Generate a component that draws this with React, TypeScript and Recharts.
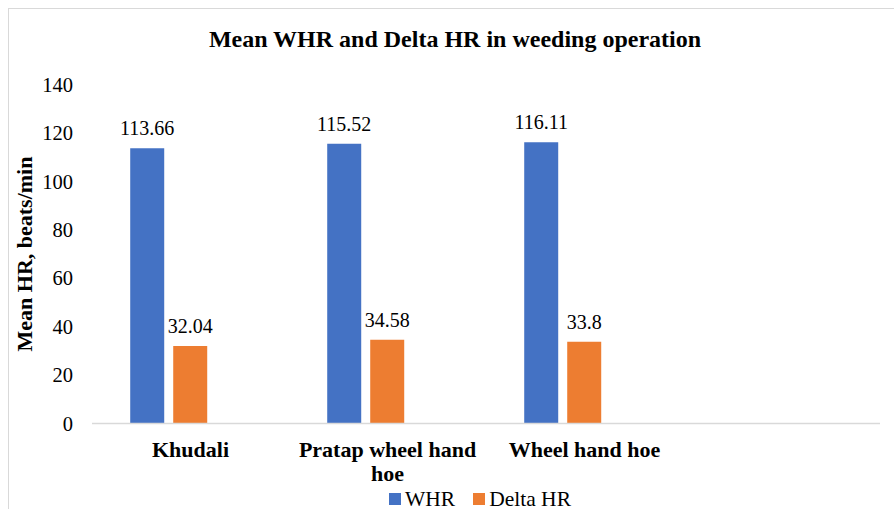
import React from 'react';
import { BarChart, Bar, XAxis, YAxis, Legend, LabelList } from 'recharts';

const categories = ['Khudali', 'Pratap wheel hand hoe', 'Wheel hand hoe', ''];
const whr = [113.66, 115.52, 116.11, null];
const deltaHr = [32.04, 34.58, 33.8, null];
// third series in the source sheet is empty, it only takes up a bar slot
const blank = [null, null, null, null];
const seriesOrder = ['whr', 'delta', 'blank'];
const yTicks = [0, 20, 40, 60, 80, 100, 120, 140];

const SERIF = '"Liberation Serif", "Times New Roman", serif';
const BLUE = '#4472C4';
const ORANGE = '#ED7D31';

const data = categories.map((name, i) => ({
    name,
    whr: whr[i],
    delta: deltaHr[i],
    blank: blank[i],
}));

// greedy word wrap, measured with a canvas so the breaks follow the real font
let measureCtx: CanvasRenderingContext2D | null = null;
const wrapWords = (label: string, font: string, maxWidth: number) => {
    if (!measureCtx) measureCtx = document.createElement('canvas').getContext('2d');
    const ctx = measureCtx!;
    ctx.font = font;
    const lines: string[] = [];
    let current = '';
    label.split(' ').forEach(word => {
        const next = current ? current + ' ' + word : word;
        if (current && ctx.measureText(next).width > maxWidth) {
            lines.push(current);
            current = word;
        } else {
            current = next;
        }
    });
    if (current) lines.push(current);
    return lines;
};

const CategoryTick = (props: any) => {
    const { x, y, payload } = props;
    const lines = wrapWords(String(payload.value), 'bold 22px "Liberation Serif"', 190);
    return (
        <text x={x} y={y} textAnchor="middle" fill="#000" style={{ fontFamily: SERIF, fontSize: 22, fontWeight: 'bold' }}>
            {lines.map((line, i) => (
                <tspan key={i} x={x} dy={i === 0 ? 15.6 : 24}>
                    {line}
                </tspan>
            ))}
        </text>
    );
};

const LegendContent = (props: any) => {
    const items = (props.payload || []).filter((e: any) => e.type !== 'none');
    return (
        <div style={{ display: 'flex', alignItems: 'center', height: 20 }}>
            {items.map((entry: any, i: number) => (
                <div key={entry.value} style={{ display: 'flex', alignItems: 'center', marginRight: i < items.length - 1 ? 18 : 0 }}>
                    <div style={{ width: 12, height: 12, background: entry.color, marginRight: 4 }} />
                    <span style={{ fontFamily: SERIF, fontSize: 21.5, lineHeight: '20px', color: '#000' }}>{entry.value}</span>
                </div>
            ))}
        </div>
    );
};

export default function App() {
    return (
        <div className="chart-root" style={{ position: 'fixed', left: 0, top: 0, width: 894, height: 509, overflow: 'hidden', background: '#fff', fontFamily: SERIF }}>
            <style>{`.chart-root text, .chart-root tspan { font-family: ${SERIF} !important; }`}</style>

            {/* chart frame, only left and top edges are visible in the crop */}
            <div style={{ position: 'absolute', left: 8, top: 8, width: 900, height: 520, borderLeft: '1px solid #d9d9d9', borderTop: '1px solid #d9d9d9' }} />

            <div
                style={{
                    position: 'absolute',
                    left: 8,
                    top: 25.6,
                    width: 894,
                    textAlign: 'center',
                    fontFamily: SERIF,
                    fontWeight: 'bold',
                    fontSize: 24,
                    lineHeight: '27px',
                    color: '#000',
                }}
            >
                Mean WHR and Delta HR in weeding operation
            </div>

            <div
                style={{
                    position: 'absolute',
                    left: 24.7,
                    top: 254,
                    width: 300,
                    textAlign: 'center',
                    fontFamily: SERIF,
                    fontWeight: 'bold',
                    fontSize: 22,
                    lineHeight: '24px',
                    color: '#000',
                    whiteSpace: 'nowrap',
                    transform: 'translate(-50%, -50%) rotate(-90deg)',
                }}
            >
                Mean HR, beats/min
            </div>

            <div style={{ position: 'absolute', left: 0, top: 0 }}>
                <BarChart
                    width={894}
                    height={509}
                    data={data}
                    margin={{ top: 84.5, right: 14, left: 32, bottom: 15.5 }}
                    barCategoryGap="19.4%"
                    barGap={9}
                >
                    <XAxis
                        dataKey="name"
                        height={70}
                        axisLine={{ stroke: '#d9d9d9', strokeWidth: 1.5 }}
                        tickLine={false}
                        tickSize={0}
                        tickMargin={18}
                        interval={0}
                        tick={<CategoryTick />}
                    />
                    <YAxis
                        width={60}
                        domain={[0, 140]}
                        ticks={yTicks}
                        axisLine={false}
                        tickLine={false}
                        tickSize={0}
                        tickMargin={19}
                        tick={{ fontSize: 20.5, fill: '#000' }}
                    />
                    <Legend
                        layout="horizontal"
                        verticalAlign="middle"
                        align="center"
                        itemSorter={(item: any) => seriesOrder.indexOf(item.dataKey)}
                        wrapperStyle={{ top: 488.7, left: 389, width: 300, height: 20 }}
                        content={<LegendContent />}
                    />
                    <Bar dataKey="whr" name="WHR" fill={BLUE} isAnimationActive={false}>
                        <LabelList dataKey="whr" position="top" offset={13} fontSize={20} fill="#000" />
                    </Bar>
                    <Bar dataKey="delta" name="Delta HR" fill={ORANGE} isAnimationActive={false}>
                        <LabelList dataKey="delta" position="top" offset={13} fontSize={20} fill="#000" />
                    </Bar>
                    <Bar dataKey="blank" fill="#A5A5A5" legendType="none" isAnimationActive={false} />
                </BarChart>
            </div>
        </div>
    );
}
